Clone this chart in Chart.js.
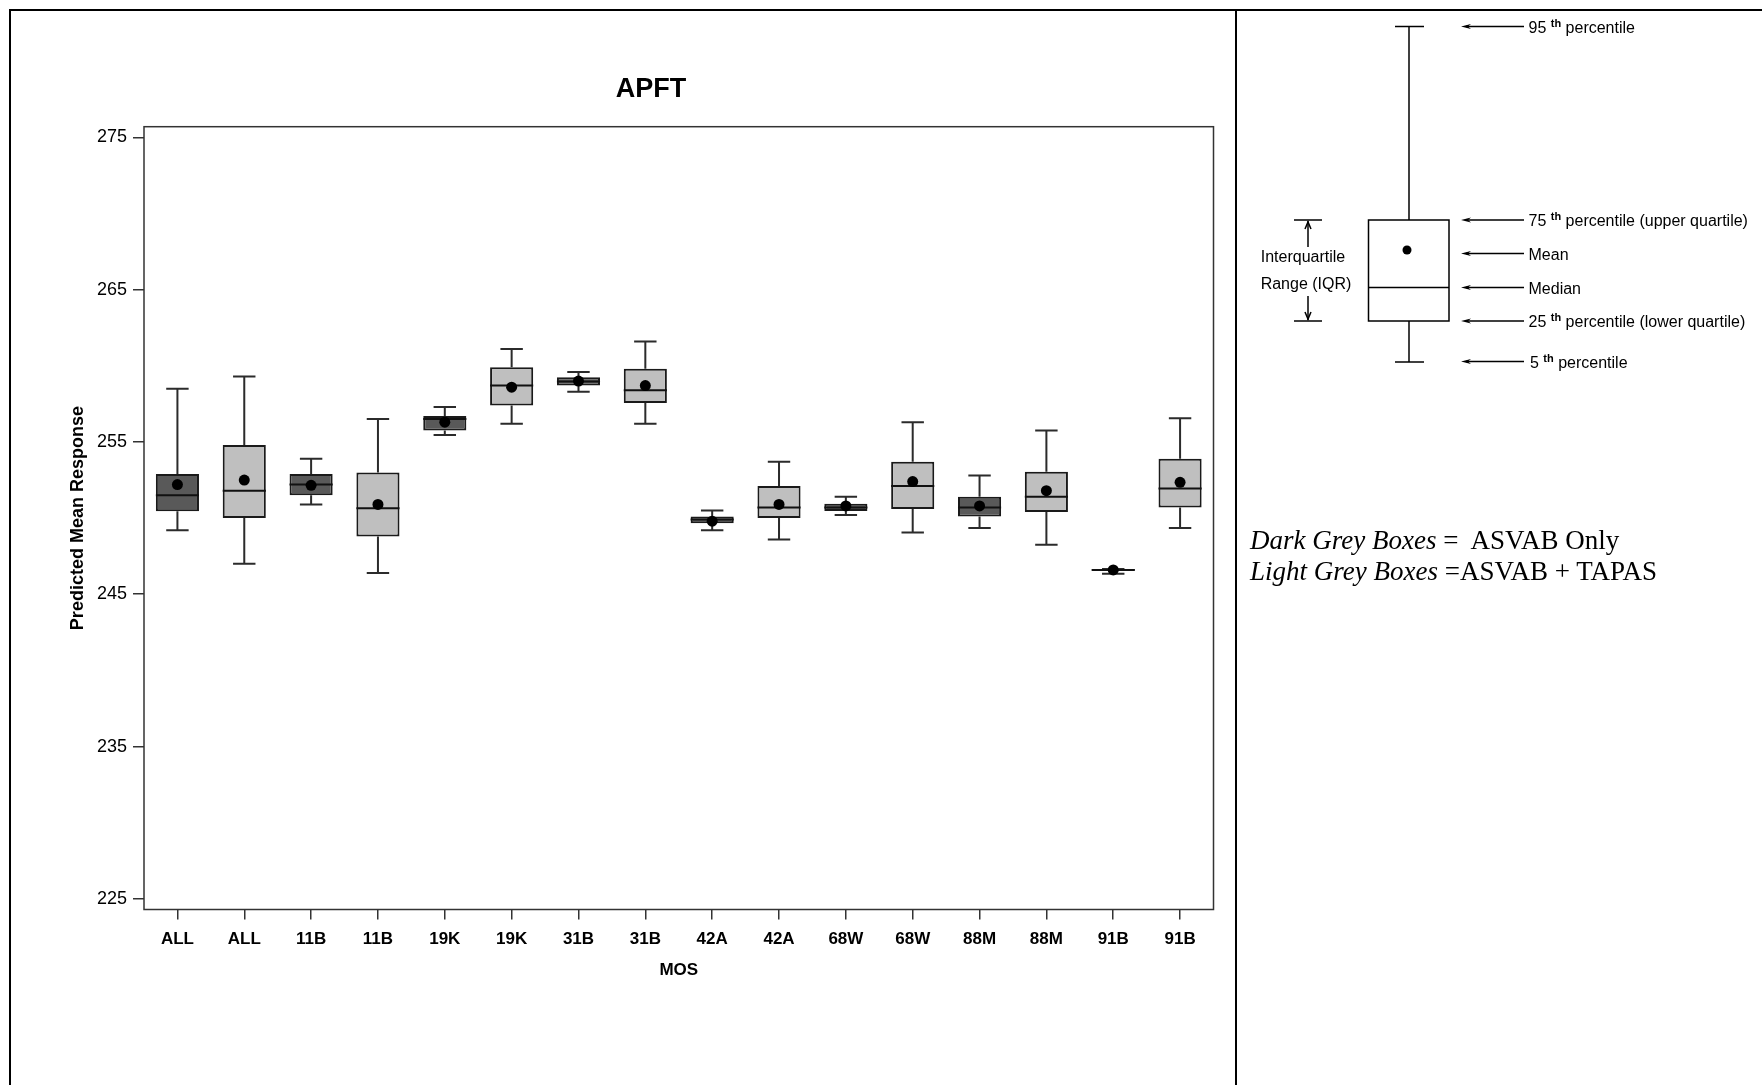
<!DOCTYPE html>
<html>
<head>
<meta charset="utf-8">
<title>APFT</title>
<script src="https://cdn.jsdelivr.net/npm/chart.js@4.4.1/dist/chart.umd.min.js"></script>
<style>
  html, body { margin: 0; padding: 0; background: #fff; }
  #page { position: relative; width: 1762px; height: 1085px; overflow: hidden; font-family: "Liberation Sans", Arial, sans-serif; }
  #chart { position: absolute; left: 0; top: 0; }
  .rule { position: absolute; background: #000; }
  #title { position: absolute; left: 551px; width: 200px; top: 71px; text-align: center; font: bold 27px "Liberation Sans", Arial, sans-serif; line-height: 34px; }
  #key { position: absolute; left: 1250px; top: 525px; font: 27px "Liberation Serif", "Times New Roman", serif; line-height: 31px; white-space: pre; }
  #diagram { position: absolute; left: 0; top: 0; }
</style>
</head>
<body>
<div id="page">
  <canvas id="chart" width="1236" height="1085"></canvas>
  <div id="title">APFT</div>

  <div class="rule" style="left:9px; top:9px; width:1753px; height:2px;"></div>
  <div class="rule" style="left:9px; top:9px; width:2px; height:1076px;"></div>
  <div class="rule" style="left:1235px; top:9px; width:2px; height:1076px;"></div>

  <!-- explanation of the box elements -->
  <svg id="diagram" width="1762" height="1085" viewBox="0 0 1762 1085">
    <g stroke="#000" stroke-width="1.5" fill="none">
      <line x1="1395" y1="26.5" x2="1424" y2="26.5"/>
      <line x1="1409" y1="26.5" x2="1409" y2="220"/>
      <rect x="1368.5" y="220" width="80.5" height="101" fill="#fff"/>
      <line x1="1368.5" y1="287.5" x2="1449" y2="287.5"/>
      <line x1="1409" y1="321" x2="1409" y2="362"/>
      <line x1="1395" y1="362" x2="1424" y2="362"/>

      <line x1="1294" y1="220" x2="1322" y2="220"/>
      <line x1="1294" y1="321" x2="1322" y2="321"/>
      <line x1="1308" y1="221" x2="1308" y2="247"/>
      <line x1="1308" y1="296" x2="1308" y2="320"/>
      <polyline points="1305,229 1308,222 1311,229"/>
      <polyline points="1305,312 1308,319 1311,312"/>

      <line x1="1466" y1="26.5" x2="1524" y2="26.5"/>
      <line x1="1466" y1="220" x2="1524" y2="220"/>
      <line x1="1466" y1="253.5" x2="1524" y2="253.5"/>
      <line x1="1466" y1="287.5" x2="1524" y2="287.5"/>
      <line x1="1466" y1="321" x2="1524" y2="321"/>
      <line x1="1466" y1="361.5" x2="1524" y2="361.5"/>
    </g>
    <g fill="#000">
      <polygon points="1461,26.5 1471,24 1468,26.5 1471,29"/>
      <polygon points="1461,220 1471,217.5 1468,220 1471,222.5"/>
      <polygon points="1461,253.5 1471,251 1468,253.5 1471,256"/>
      <polygon points="1461,287.5 1471,285 1468,287.5 1471,290"/>
      <polygon points="1461,321 1471,318.5 1468,321 1471,323.5"/>
      <polygon points="1461,361.5 1471,359 1468,361.5 1471,364"/>
      <circle cx="1407" cy="250" r="4.5"/>
    </g>
    <g font-family="Liberation Sans, Arial, sans-serif" font-size="16" fill="#000">
      <text x="1303" y="262" text-anchor="middle">Interquartile</text>
      <text x="1306" y="288.5" text-anchor="middle">Range (IQR)</text>

      <text x="1528.5" y="32.5">95 <tspan font-size="11" font-weight="bold" dy="-6">th</tspan><tspan dy="6"> percentile</tspan></text>
      <text x="1528.5" y="226">75 <tspan font-size="11" font-weight="bold" dy="-6">th</tspan><tspan dy="6"> percentile (upper quartile)</tspan></text>
      <text x="1528.5" y="259.5">Mean</text>
      <text x="1528.5" y="293.5">Median</text>
      <text x="1528.5" y="327">25 <tspan font-size="11" font-weight="bold" dy="-6">th</tspan><tspan dy="6"> percentile (lower quartile)</tspan></text>
      <text x="1530" y="367.5">5 <tspan font-size="11" font-weight="bold" dy="-6">th</tspan><tspan dy="6"> percentile</tspan></text>
    </g>
  </svg>

  <div id="key"><i>Dark Grey Boxes</i> =  ASVAB Only
<i>Light Grey Boxes</i> =ASVAB + TAPAS</div>
</div>

<script>
// MOS groups, each shown twice: ASVAB only (dark) then ASVAB + TAPAS (light)
var categories = ["ALL", "ALL", "11B", "11B", "19K", "19K", "31B", "31B",
                  "42A", "42A", "68W", "68W", "88M", "88M", "91B", "91B"];
var boxType = ["ASVAB", "TAPAS", "ASVAB", "TAPAS", "ASVAB", "TAPAS", "ASVAB", "TAPAS",
               "ASVAB", "TAPAS", "ASVAB", "TAPAS", "ASVAB", "TAPAS", "ASVAB", "TAPAS"];

// predicted mean response
var p5     = [249.2, 247.0, 250.9, 246.4, 255.45, 256.2, 258.3, 256.2,
              249.2, 248.6, 250.2, 249.05, 249.35, 248.25, 246.35, 249.35];
var q1     = [250.45, 250.0, 251.5, 248.8, 255.75, 257.4, 258.7, 257.55,
              249.66, 250.0, 250.47, 250.6, 250.1, 250.4, 246.55, 250.7];
var median = [251.5, 251.8, 252.2, 250.65, 256.5, 258.7, 258.97, 258.4,
              249.9, 250.7, 250.7, 252.1, 250.7, 251.4, 246.6, 251.95];
var q3     = [252.9, 254.8, 252.9, 253.0, 256.7, 259.9, 259.25, 259.8,
              250.1, 252.1, 250.95, 253.7, 251.4, 253.05, 246.65, 253.9];
var p95    = [258.5, 259.3, 253.9, 256.5, 257.3, 261.1, 259.6, 261.6,
              250.5, 253.7, 251.4, 256.3, 252.8, 255.75, 246.65, 256.55];
var mean   = [252.2, 252.5, 252.15, 250.9, 256.3, 258.6, 259.0, 258.7,
              249.8, 250.9, 250.8, 252.4, 250.8, 251.8, 246.6, 252.35];

var yTicks = [225, 235, 245, 255, 265, 275];

var FONT = "'Liberation Sans', Arial, sans-serif";
var fills = { ASVAB: "#595959", TAPAS: "#bfbfbf" };

// whiskers, caps and median lines, drawn right after the boxes
var boxExtras = {
    id: "boxExtras",
    afterDatasetDraw: function (chart, args) {
        if (args.index !== 0) return;
        var ctx = chart.ctx;
        var y = chart.scales.y;
        ctx.save();
        ctx.lineWidth = 2;
        args.meta.data.forEach(function (bar, i) {
            var x = bar.x, half = bar.width / 2, cap = bar.width * 0.26;
            var yTop = y.getPixelForValue(p95[i]), yQ3 = y.getPixelForValue(q3[i]);
            var yBot = y.getPixelForValue(p5[i]), yQ1 = y.getPixelForValue(q1[i]);
            ctx.strokeStyle = "#2b2b2b";
            ctx.beginPath();
            ctx.moveTo(x, yQ3); ctx.lineTo(x, yTop);
            ctx.moveTo(x - cap, yTop); ctx.lineTo(x + cap, yTop);
            ctx.moveTo(x, yQ1); ctx.lineTo(x, yBot);
            ctx.moveTo(x - cap, yBot); ctx.lineTo(x + cap, yBot);
            ctx.stroke();
            var ym = y.getPixelForValue(median[i]);
            ctx.strokeStyle = "#111";
            ctx.beginPath();
            ctx.moveTo(x - half, ym); ctx.lineTo(x + half, ym);
            ctx.stroke();
        });
        ctx.restore();
    }
};

// frame round the plot area
var frame = {
    id: "frame",
    afterDraw: function (chart) {
        var a = chart.chartArea, ctx = chart.ctx;
        ctx.save();
        ctx.strokeStyle = "#333";
        ctx.lineWidth = 1.5;
        ctx.strokeRect(a.left, a.top, a.right - a.left, a.bottom - a.top);
        ctx.restore();
    }
};

var ctx = document.getElementById("chart").getContext("2d");
new Chart(ctx, {
    type: "bar",
    data: {
        labels: categories,
        datasets: [
            {
                label: "IQR",
                data: q1.map(function (v, i) { return [v, q3[i]]; }),
                backgroundColor: boxType.map(function (t) { return fills[t]; }),
                borderColor: "#1a1a1a",
                borderWidth: 2,
                borderSkipped: false,
                barPercentage: 0.645,
                categoryPercentage: 1,
                order: 2
            },
            {
                type: "line",
                label: "Mean",
                data: mean,
                showLine: false,
                pointRadius: 5.5,
                pointBackgroundColor: "#000",
                pointBorderWidth: 0,
                order: 1
            }
        ]
    },
    options: {
        responsive: false,
        animation: false,
        layout: { padding: { left: 63, right: 22.5, top: 126.7, bottom: 104.8 } },
        plugins: {
            legend: { display: false },
            tooltip: { enabled: false }
        },
        scales: {
            x: {
                offset: true,
                grid: { offset: false, drawOnChartArea: false, drawTicks: true, tickLength: 10, color: "#333", lineWidth: 1.5 },
                border: { display: false },
                ticks: { color: "#000", padding: 10, maxRotation: 0, autoSkip: false, font: { family: FONT, size: 17, weight: "bold" } },
                title: { display: true, text: "MOS", color: "#000", padding: { top: 0, bottom: 0 }, font: { family: FONT, size: 17, weight: "bold" } },
                afterFit: function (s) { s.height = 70.7; }
            },
            y: {
                min: 224.3,
                max: 275.7,
                grid: { drawOnChartArea: false, drawTicks: true, tickLength: 11, color: "#333", lineWidth: 1.5 },
                border: { display: false },
                afterBuildTicks: function (s) { s.ticks = yTicks.map(function (v) { return { value: v }; }); },
                ticks: { color: "#000", padding: 6, font: { family: FONT, size: 18 } },
                title: { display: true, text: "Predicted Mean Response", color: "#000", padding: { top: 4, bottom: 0 }, font: { family: FONT, size: 18, weight: "bold" } },
                afterFit: function (s) { s.width = 81; }
            }
        }
    },
    plugins: [boxExtras, frame]
});
</script>
</body>
</html>
